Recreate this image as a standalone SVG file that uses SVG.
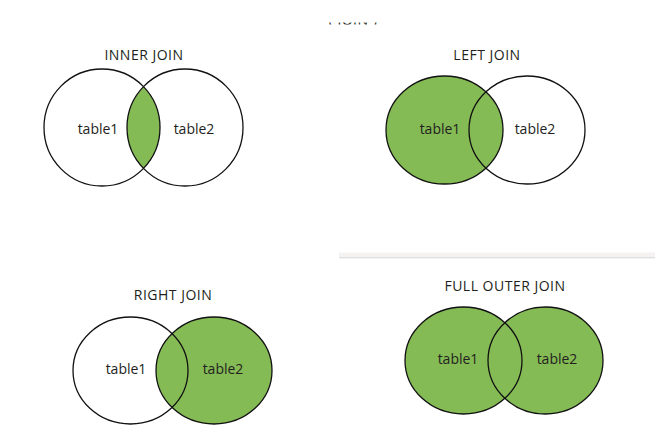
<svg xmlns="http://www.w3.org/2000/svg" width="655" height="429" viewBox="0 0 655 429">
<style>
text{font-family:"Open Sans","Liberation Sans",sans-serif;fill:#231f20;text-anchor:middle}
.t{font-size:14px;letter-spacing:0.5px}
.l{font-size:14px}
.c{fill:none;stroke:#111;stroke-width:1.3}
.g{fill:#85bb55}
</style>
<defs>
<clipPath id="topclip"><rect x="300" y="22.5" width="120" height="2"/></clipPath>
<clipPath id="ij"><ellipse cx="102" cy="127.5" rx="58" ry="58.5"/></clipPath>
</defs>
<rect width="655" height="429" fill="#fff"/>
<g clip-path="url(#topclip)"><text x="353" y="24.5" class="t">( JOIN )</text></g>
<rect x="339" y="252.5" width="316" height="5" fill="#f5f2f2"/>
<rect x="339" y="257.3" width="316" height="1" fill="#d6d6d6"/>

<g id="inner-join">
<text x="144" y="60" class="t">INNER JOIN</text>
<ellipse cx="185" cy="127.5" rx="58" ry="58.5" class="g" clip-path="url(#ij)"/>
<ellipse cx="102" cy="127.5" rx="58" ry="58.5" class="c"/>
<ellipse cx="185" cy="127.5" rx="58" ry="58.5" class="c"/>
<text x="98" y="134" class="l">table1</text>
<text x="194" y="134" class="l">table2</text>
</g>

<g id="left-join">
<text x="487" y="60" class="t">LEFT JOIN</text>
<ellipse cx="444.5" cy="130" rx="58.5" ry="54" class="g"/>
<ellipse cx="444.5" cy="130" rx="58.5" ry="54" class="c"/>
<ellipse cx="527" cy="130" rx="58" ry="54" class="c"/>
<text x="440" y="134" class="l">table1</text>
<text x="535" y="134" class="l">table2</text>
</g>

<g id="right-join">
<text x="173" y="300" class="t">RIGHT JOIN</text>
<ellipse cx="214" cy="370.5" rx="58" ry="53.5" class="g"/>
<ellipse cx="130.5" cy="370.5" rx="57.5" ry="53.5" class="c"/>
<ellipse cx="214" cy="370.5" rx="58" ry="53.5" class="c"/>
<text x="126" y="374" class="l">table1</text>
<text x="223" y="374" class="l">table2</text>
</g>

<g id="full-outer-join">
<text x="505" y="291" class="t">FULL OUTER JOIN</text>
<ellipse cx="463.5" cy="360.5" rx="58.5" ry="53.5" class="g"/>
<ellipse cx="545.5" cy="360.5" rx="57.5" ry="53.5" class="g"/>
<ellipse cx="463.5" cy="360.5" rx="58.5" ry="53.5" class="c"/>
<ellipse cx="545.5" cy="360.5" rx="57.5" ry="53.5" class="c"/>
<text x="458" y="364" class="l">table1</text>
<text x="557" y="364" class="l">table2</text>
</g>
<g id="connectors"/>
</svg>
